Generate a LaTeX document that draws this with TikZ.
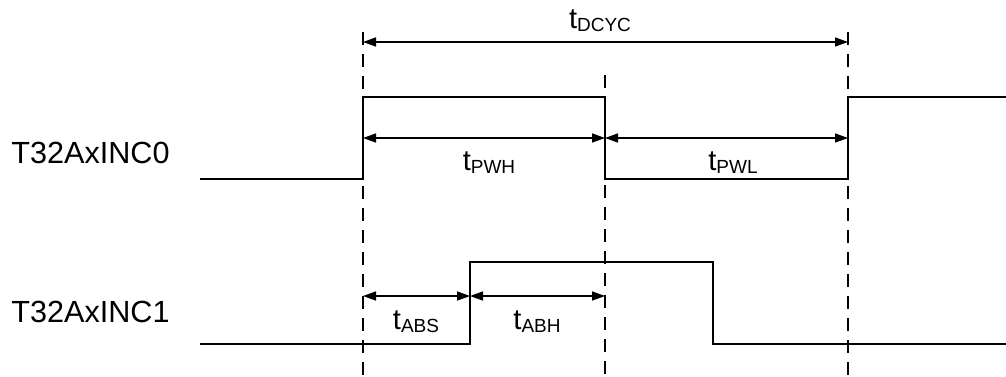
\documentclass[tikz,border=0pt]{standalone}
\usepackage{fontspec}
\setmainfont{Liberation Sans}
\usetikzlibrary{arrows.meta}
\newcommand{\tsub}[1]{t\raisebox{-1.5pt}{\fontsize{9.5}{9.5}\selectfont #1}}
\tikzset{
  sig/.style={line width=1.4pt, line join=miter},
  guide/.style={line width=0.8pt, dash pattern=on 6.5pt off 4.5pt},
  dim/.style={line width=0.75pt, {Triangle[length=6.5pt,width=4.5pt]}-{Triangle[length=6.5pt,width=4.5pt]}},
  lbl/.style={font=\fontsize{14.5}{14.5}\selectfont, inner sep=0pt},
  sname/.style={font=\fontsize{15.3}{15.3}\selectfont, inner sep=0pt, anchor=west}
}
\begin{document}
\begin{tikzpicture}[x=0.5pt,y=-0.5pt]
\useasboundingbox (0,0) rectangle (1006,376);
% guide lines
\coordinate (g1t) at (363,32);  \coordinate (g1b) at (363,376);
\coordinate (g2t) at (605,75);  \coordinate (g2b) at (605,376);
\coordinate (g3t) at (848,32);  \coordinate (g3b) at (848,376);
\draw[guide] (g1t) -- (g1b);
\draw[guide] (g2t) -- (g2b);
\draw[guide] (g3t) -- (g3b);
% signal 0
\draw[sig] (200,179) -- (363,179) -- (363,97) -- (605,97) -- (605,179) -- (848,179) -- (848,97) -- (1006,97);
% signal 1
\draw[sig] (200,344) -- (470,344) -- (470,262) -- (713,262) -- (713,344) -- (1006,344);
% dimension coordinates
\coordinate (d1a) at (363,42);  \coordinate (d1b) at (848,42);
\coordinate (d2a) at (363,138); \coordinate (d2b) at (605,138); \coordinate (d2c) at (848,138);
\coordinate (d3a) at (363,296); \coordinate (d3b) at (470,296); \coordinate (d3c) at (605,296);
\draw[dim] (d1a) -- (d1b);
\draw[dim] (d2a) -- (d2b);
\draw[dim] (d2b) -- (d2c);
\draw[dim] (d3a) -- (d3b);
\draw[dim] (d3b) -- (d3c);
% labels
\node[lbl] (ldcyc) at (600,21) {\tsub{DCYC}};
\node[lbl] (lpwh) at (489,163) {\tsub{PWH}};
\node[lbl] (lpwl) at (733,163) {\tsub{PWL}};
\node[lbl] (labs) at (416,322) {\tsub{ABS}};
\node[lbl] (labh) at (537,322) {\tsub{ABH}};
\node[sname] (s0) at (11,153) {T32AxINC0};
\node[sname] (s1) at (11,312) {T32AxINC1};
\end{tikzpicture}
\end{document}
